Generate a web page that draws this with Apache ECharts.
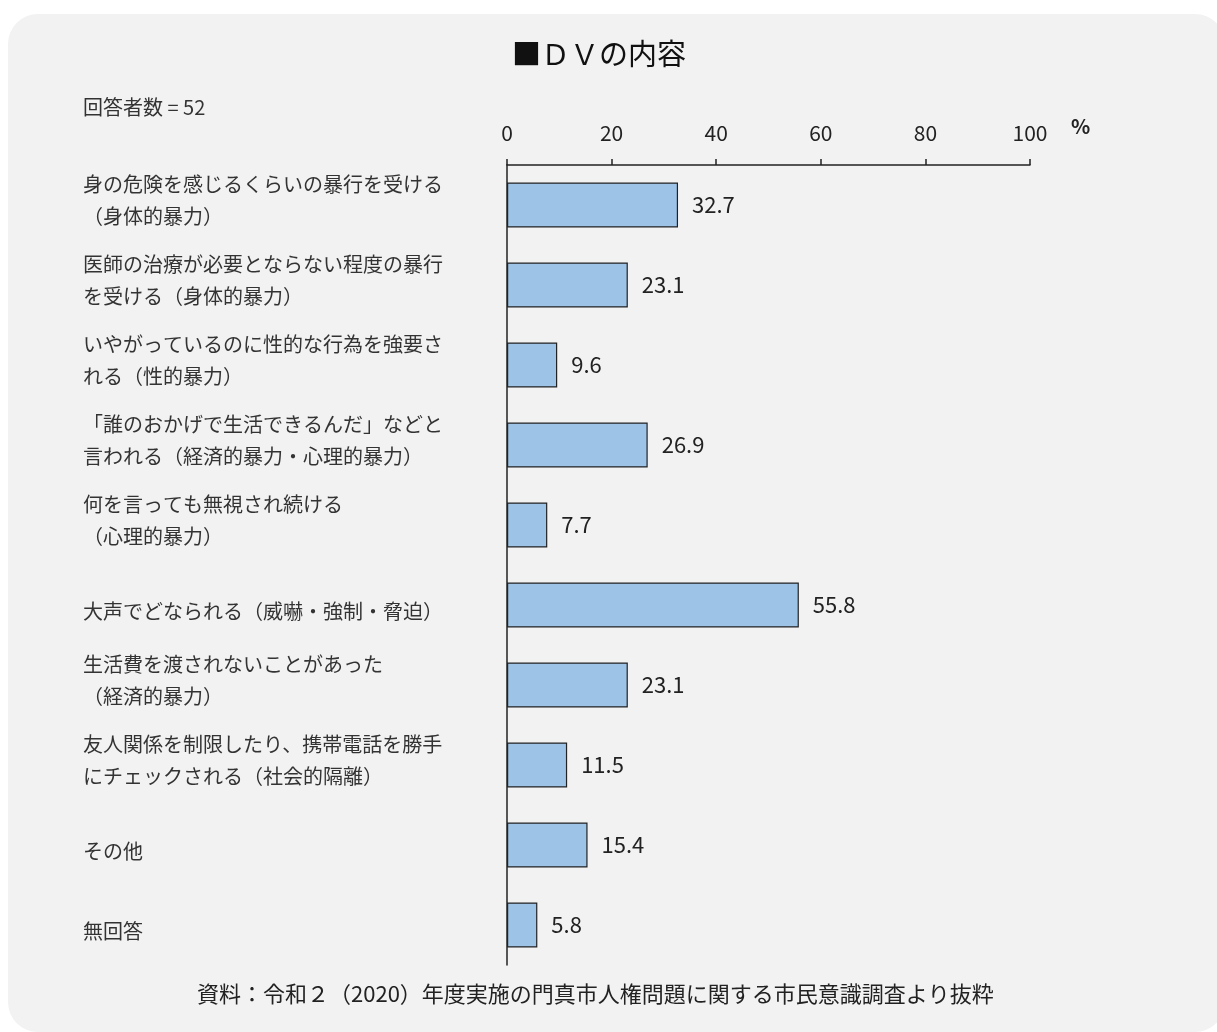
<!DOCTYPE html>
<html><head><meta charset="utf-8">
<script src="https://cdn.jsdelivr.net/npm/echarts@6/dist/echarts.min.js"></script>
<style>html,body{margin:0;padding:0;background:#fff}#c{width:1217px;height:1032px}</style>
</head><body><div id="c"></div>
<script>
const categories = [
  '身の危険を感じるくらいの暴行を受ける\n（身体的暴力）',
  '医師の治療が必要とならない程度の暴行\nを受ける（身体的暴力）',
  'いやがっているのに性的な行為を強要さ\nれる（性的暴力）',
  '「誰のおかげで生活できるんだ」などと\n言われる（経済的暴力・心理的暴力）',
  '何を言っても無視され続ける\n（心理的暴力）',
  '大声でどなられる（威嚇・強制・脅迫）',
  '生活費を渡されないことがあった\n（経済的暴力）',
  '友人関係を制限したり、携帯電話を勝手\nにチェックされる（社会的隔離）',
  'その他',
  '無回答'
];
const values = [32.7, 23.1, 9.6, 26.9, 7.7, 55.8, 23.1, 11.5, 15.4, 5.8];
const tickValues = [0, 20, 40, 60, 80, 100];
const titleText = '■ＤＶの内容';
const respondents = '回答者数 = 52';
const sourceText = '資料：令和２（2020）年度実施の門真市人権問題に関する市民意識調査より抜粋';

const FONT = '"Noto Sans CJK JP", "Noto Sans", sans-serif';
const chart = echarts.init(document.getElementById('c'));
chart.setOption({
  backgroundColor: '#ffffff',
  animation: false,
  graphic: [
    { type: 'rect', z: -10, shape: { x: 8, y: 14, width: 1217, height: 1018, r: 30 }, style: { fill: '#f2f2f2' } },
    { type: 'text', left: 512, top: 39, style: { text: titleText, font: '29px ' + FONT, fill: '#111' } },
    { type: 'text', left: 83, top: 97, style: { text: respondents, font: '20px ' + FONT, fill: '#333' } },
    { type: 'text', left: 1071, top: 116, style: { text: '%', font: 'bold 20px ' + FONT, fill: '#222' } },
    { type: 'text', left: 197, top: 983, style: { text: sourceText, font: '22px ' + FONT, fill: '#222' } }
  ],
  grid: { left: 507, right: 187, top: 165, height: 800, containLabel: false },
  xAxis: {
    type: 'value', position: 'top', min: 0, max: 100, interval: 20,
    axisLine: { show: true, lineStyle: { color: '#222', width: 1.5 } },
    axisTick: { show: true, length: 6, lineStyle: { color: '#222', width: 1.5 } },
    axisLabel: { margin: 21, fontSize: 21, color: '#222', fontFamily: FONT },
    splitLine: { show: false }
  },
  yAxis: {
    type: 'category', inverse: true, data: categories,
    axisLine: { show: true, lineStyle: { color: '#222', width: 1.5 } },
    axisTick: { show: false },
    axisLabel: {
      align: 'left', margin: 424, padding: [0, 0, 10, 0], color: '#333',
      formatter: v => v.indexOf('\n') >= 0
        ? v.split('\n').map(s => '{a|' + s + '}').join('\n')
        : '{b|' + v + '}',
      rich: {
        a: { fontSize: 20, lineHeight: 32, color: '#333', fontFamily: FONT },
        b: { fontSize: 20, lineHeight: 32, color: '#333', fontFamily: FONT, padding: [22, 0, 0, 0] }
      }
    }
  },
  series: [{
    type: 'bar', data: values, barWidth: 45,
    itemStyle: { color: '#9dc3e6', borderColor: '#222', borderWidth: 1.2 },
    label: { show: true, position: 'right', distance: 14, fontSize: 22, color: '#222', fontFamily: FONT,
      formatter: p => p.value.toFixed(1) }
  }]
});
</script></body></html>
